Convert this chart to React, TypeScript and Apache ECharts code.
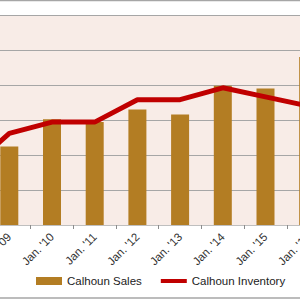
import React, { useEffect, useRef } from "react";
import * as echarts from "echarts";

const categories = ["Jan. '08", "Jan. '09", "Jan. '10", "Jan. '11", "Jan. '12", "Jan. '13", "Jan. '14", "Jan. '15", "Jan. '16"];
const salesValues = [80, 112, 151, 147, 165, 158, 199, 195, 240];
const inventoryValues = [76, 131, 147, 147, 179, 179, 196, 183, 170];
const yTicks = [0, 50, 100, 150, 200, 250, 300];

const OFFSET = 60;

export default function App() {
  const ref = useRef<HTMLDivElement>(null);
  useEffect(() => {
    const chart = echarts.init(ref.current!, null, { renderer: "svg" });
    chart.setOption({
      animation: false,
      backgroundColor: "#ffffff",
      textStyle: { fontFamily: "Liberation Sans" },
      grid: {
        left: OFFSET - 54.75,
        width: 384.3,
        top: 15,
        bottom: 75,
        outerBoundsMode: "none",
        containLabel: false,
        show: true,
        backgroundColor: "#F8ECE7",
        borderWidth: 0,
      },
      legend: {
        left: OFFSET + 31,
        top: 270,
        itemWidth: 26,
        itemHeight: 8,
        itemGap: 17,
        textStyle: { fontSize: 11.5, color: "#222", fontFamily: "Liberation Sans" },
        data: [
          { name: "Calhoun Sales", icon: "rect" },
          { name: "Calhoun Inventory", itemStyle: { opacity: 0 }, lineStyle: { width: 4, color: "#C00000" } },
        ],
      },
      xAxis: {
        type: "category",
        data: categories,
        axisLine: { show: true, lineStyle: { color: "#BFBFBF", width: 1 } },
        axisTick: { show: true, length: 4, lineStyle: { color: "#8C8C8C" } },
        axisLabel: { rotate: 45, interval: 0, fontSize: 11.5, color: "#333", margin: 10 },
      },
      yAxis: {
        type: "value",
        min: yTicks[0],
        max: yTicks[yTicks.length - 1],
        interval: yTicks[1] - yTicks[0],
        axisLabel: { show: false },
        axisLine: { show: false },
        axisTick: { show: false },
        splitLine: { lineStyle: { color: "#A6A6A6", width: 1 } },
      },
      series: [
        {
          name: "Calhoun Sales",
          type: "bar",
          data: salesValues,
          barWidth: 18,
          itemStyle: { color: "#B37D23" },
        },
        {
          name: "Calhoun Inventory",
          type: "line",
          data: inventoryValues,
          symbol: "none",
          lineStyle: { color: "#C00000", width: 5 },
          itemStyle: { color: "#C00000" },
        },
      ],
      graphic: [
        {
          type: "rect",
          shape: { x: OFFSET - 10, y: 0.5, width: 320, height: 297.5 },
          style: { fill: "none", stroke: "#A6A6A6", lineWidth: 1.5 },
          silent: true,
        },
      ],
    });
    return () => chart.dispose();
  }, []);
  return (
    <div style={{ position: "fixed", left: 0, top: 0, width: 300, height: 300, overflow: "hidden" }}>
      <div ref={ref} style={{ position: "absolute", left: -OFFSET, top: 0, width: 420, height: 300 }} />
    </div>
  );
}
